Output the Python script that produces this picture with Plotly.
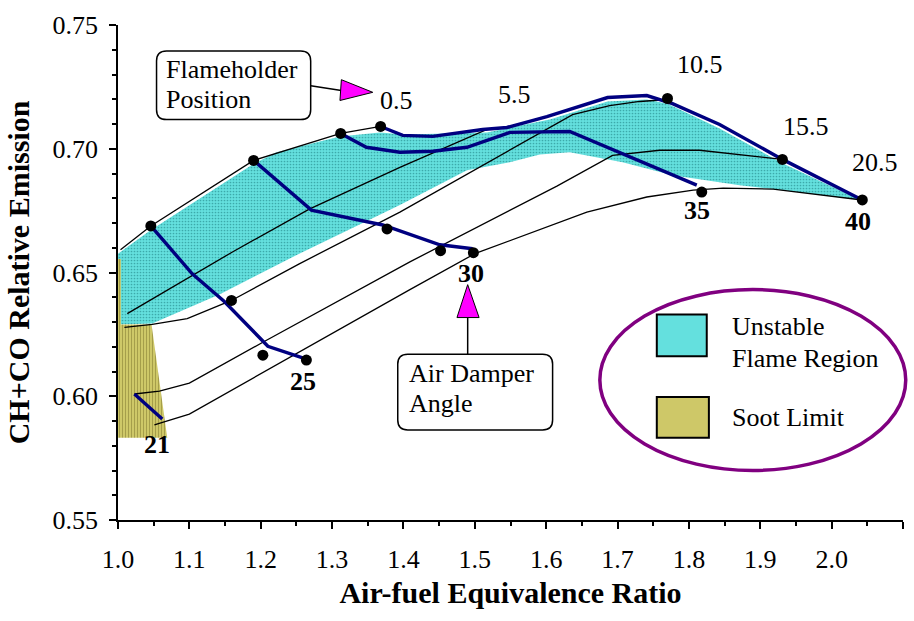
import plotly.graph_objects as go

# ---------------- data ----------------
# Unstable flame region (closed outline)
unstable_x = [1.000, 1.044, 1.189, 1.222, 1.311, 1.367, 1.402, 1.517, 1.605, 1.686, 1.741, 1.770,
              1.843, 1.931, 2.040, 1.918, 1.871, 1.777, 1.707, 1.633, 1.591, 1.549, 1.489, 1.395,
              1.254, 1.142, 1.048, 1.000]
unstable_y = [0.6576, 0.6668, 0.6937, 0.6986, 0.7050, 0.7066, 0.7058, 0.7066, 0.7118, 0.7191, 0.7199, 0.7182,
              0.7082, 0.6941, 0.6793, 0.6837, 0.6853, 0.6893, 0.6945, 0.6986, 0.6977, 0.6945, 0.6913, 0.6773,
              0.6576, 0.6411, 0.6294, 0.6290]

# Soot limit (closed outline)
soot_x = [1.000, 1.004, 1.004, 1.047, 1.069, 1.000]
soot_y = [0.6555, 0.6555, 0.6290, 0.6290, 0.5832, 0.5832]

# Constant flameholder position curves
fh_labels = ["0.5", "5.5", "10.5", "15.5", "20.5"]
fh_x = [
    [1.0035, 1.046, 1.190, 1.312, 1.368],
    [1.013, 1.161, 1.268, 1.395, 1.517, 1.531],
    [1.009, 1.048, 1.097, 1.159, 1.254, 1.395, 1.637, 1.689, 1.731, 1.770],
    [1.023, 1.058, 1.100, 1.203, 1.409, 1.615, 1.693, 1.759, 1.815, 1.931],
    [1.051, 1.100, 1.409, 1.500, 1.657, 1.741, 1.806, 1.848, 1.918, 2.043],
]
fh_y = [
    [0.6592, 0.6688, 0.6953, 0.7062, 0.7090],
    [0.6334, 0.6584, 0.6756, 0.6925, 0.7078, 0.7078],
    [0.6278, 0.6290, 0.6314, 0.6387, 0.6535, 0.6744, 0.7138, 0.7174, 0.7191, 0.7199],
    [0.6009, 0.6021, 0.6053, 0.6218, 0.6543, 0.6849, 0.6973, 0.6994, 0.6994, 0.6957],
    [0.5884, 0.5928, 0.6431, 0.6576, 0.6744, 0.6805, 0.6833, 0.6841, 0.6837, 0.6793],
]

# Constant air damper angle curves
ad_labels = ["21", "25", "30", "35", "40"]
ad_x = [
    [1.023, 1.062],
    [1.046, 1.104, 1.149, 1.210, 1.264],
    [1.190, 1.271, 1.371, 1.451, 1.497],
    [1.312, 1.348, 1.395, 1.441, 1.489, 1.549, 1.633, 1.811],
    [1.368, 1.399, 1.441, 1.511, 1.545, 1.601, 1.686, 1.741, 1.777, 1.843, 1.931, 2.043],
]
ad_y = [
    [0.6009, 0.5908],
    [0.6688, 0.6495, 0.6383, 0.6202, 0.6150],
    [0.6953, 0.6752, 0.6692, 0.6612, 0.6596],
    [0.7062, 0.7006, 0.6986, 0.6990, 0.7006, 0.7066, 0.7070, 0.6853],
    [0.7090, 0.7054, 0.7050, 0.7078, 0.7086, 0.7130, 0.7207, 0.7215, 0.7182, 0.7098, 0.6957, 0.6793],
]

# Measured points
dots_x = [1.046, 1.190, 1.312, 1.368, 1.159, 1.377, 1.203, 1.264, 1.452, 1.498, 1.770, 1.931, 2.043, 1.818]
dots_y = [0.6688, 0.6953, 0.7062, 0.7090, 0.6387, 0.6676, 0.6166, 0.6146, 0.6588, 0.6580, 0.7203, 0.6957, 0.6793, 0.6825]

x_title = "Air-fuel Equivalence Ratio"
y_title = "CH+CO Relative Emission"

# ---------------- figure ----------------
FONT = "Liberation Serif, Times New Roman, serif"
CYAN = "rgb(100,224,222)"
CYAN_DOT = "rgb(60,170,170)"
OLIVE = "rgb(206,200,104)"
OLIVE_LINE = "rgb(160,154,70)"
NAVY = "#000080"
MAGENTA = "#FF00FF"

cyan_pattern = dict(shape=".", size=3, solidity=0.25, fgcolor=CYAN_DOT, bgcolor=CYAN, fillmode="replace")
olive_pattern = dict(shape="|", size=3, solidity=0.3, fgcolor=OLIVE_LINE, bgcolor=OLIVE, fillmode="replace")

fig = go.Figure()

fig.add_trace(go.Scatter(x=unstable_x, y=unstable_y, fill="toself", fillcolor=CYAN,
                         fillpattern=cyan_pattern,
                         mode="none", hoverinfo="skip", showlegend=False))
fig.add_trace(go.Scatter(x=soot_x, y=soot_y, fill="toself", fillcolor=OLIVE,
                         fillpattern=olive_pattern,
                         mode="none", hoverinfo="skip", showlegend=False))

for xs, ys in zip(fh_x, fh_y):
    fig.add_trace(go.Scatter(x=xs, y=ys, mode="lines", line=dict(color="black", width=1.3),
                             showlegend=False, hoverinfo="skip"))
for xs, ys in zip(ad_x, ad_y):
    fig.add_trace(go.Scatter(x=xs, y=ys, mode="lines", line=dict(color=NAVY, width=3.4),
                             showlegend=False, hoverinfo="skip"))

fig.add_trace(go.Scatter(x=dots_x, y=dots_y, mode="markers",
                         marker=dict(color="black", size=11, symbol="circle"),
                         showlegend=False, hoverinfo="skip"))

annotations = []
# flameholder position labels (offset from the end of each curve)
fh_off = [(16, 26), (18, 35), (32, 35), (24, 33), (13, 37)]
for lab, xs, ys, (dx, dy) in zip(fh_labels, fh_x, fh_y, fh_off):
    annotations.append(dict(x=xs[-1], y=ys[-1], text=lab, showarrow=False, xshift=dx, yshift=dy,
                            font=dict(family=FONT, size=26, color="black")))
# air damper angle labels
ad_off = [(-5, -25), (-3, -22), (-2, -25), (0, -25), (-4, -22)]
for lab, xs, ys, (dx, dy) in zip(ad_labels, ad_x, ad_y, ad_off):
    annotations.append(dict(x=xs[-1], y=ys[-1], text="<b>%s</b>" % lab, showarrow=False,
                            xshift=dx, yshift=dy, font=dict(family=FONT, size=26, color="black")))

# callout texts
for txt, xx, yy in [("Flameholder", 1.064, 0.7319), ("Position", 1.064, 0.7199),
                    ("Air Damper", 1.4045, 0.6093), ("Angle", 1.4045, 0.5969),
                    ("Unstable", 1.857, 0.6282), ("Flame Region", 1.857, 0.6153),
                    ("Soot Limit", 1.857, 0.5916)]:
    annotations.append(dict(x=xx, y=yy, text=txt, showarrow=False, xanchor="left", yanchor="middle",
                            font=dict(family=FONT, size=26, color="black")))


def rounded_box(x0, y0, x1, y1, rx, ry):
    return (f"M{x0+rx},{y0} L{x1-rx},{y0} Q{x1},{y0} {x1},{y0+ry} "
            f"L{x1},{y1-ry} Q{x1},{y1} {x1-rx},{y1} L{x0+rx},{y1} "
            f"Q{x0},{y1} {x0},{y1-ry} L{x0},{y0+ry} Q{x0},{y0} {x0+rx},{y0} Z")


shapes = [
    # Flameholder box + pointer
    dict(type="path", path=rounded_box(1.054, 0.7118, 1.270, 0.7395, 0.014, 0.0040),
         line=dict(color="black", width=1.5), fillcolor="white", layer="above"),
    dict(type="line", x0=1.270, y0=0.7255, x1=1.313, y1=0.7235, line=dict(color="black", width=1.5)),
    dict(type="path", path="M1.313,0.7279 L1.311,0.7195 L1.357,0.7228 Z",
         fillcolor=MAGENTA, line=dict(color="black", width=1)),
    # Air damper box + pointer
    dict(type="path", path=rounded_box(1.392, 0.5864, 1.609, 0.6170, 0.014, 0.0040),
         line=dict(color="black", width=1.5), fillcolor="white", layer="above"),
    dict(type="line", x0=1.490, y0=0.6170, x1=1.490, y1=0.6318, line=dict(color="black", width=1.5)),
    dict(type="path", path="M1.475,0.6318 L1.506,0.6318 L1.490,0.6451 Z",
         fillcolor=MAGENTA, line=dict(color="black", width=1)),
    # legend ellipse and swatches
    dict(type="circle", xref="paper", yref="y", x0=0.6138, x1=1.0035, y0=0.5700, y1=0.6431,
         line=dict(color="#800080", width=3.5)),
    dict(type="rect", x0=1.755, x1=1.825, y0=0.6162, y1=0.6330, fillcolor=CYAN,
         line=dict(color="black", width=2)),
    dict(type="rect", x0=1.755, x1=1.828, y0=0.5832, y1=0.5997, fillcolor=OLIVE,
         line=dict(color="black", width=2)),
]

axis_common = dict(showline=True, linecolor="black", linewidth=1.8, ticks="outside", ticklen=7,
                   tickwidth=1.5, tickcolor="black", showgrid=False, zeroline=False, mirror=False,
                   tickfont=dict(family=FONT, size=26, color="black"))

fig.update_layout(
    width=914, height=621,
    margin=dict(l=118, r=11, t=22, b=101),
    paper_bgcolor="white", plot_bgcolor="white",
    xaxis=dict(range=[1.0, 2.1], dtick=0.1, tick0=1.0, tickformat=".1f",
               minor=dict(dtick=0.05, ticks="outside", ticklen=4, tickcolor="black", tickwidth=1.5),
               title=dict(text="<b>%s</b>" % x_title, font=dict(family=FONT, size=30, color="black"),
                          standoff=9),
               ticklabelstandoff=8, **axis_common),
    yaxis=dict(range=[0.55, 0.75], dtick=0.05, tick0=0.55, tickformat=".2f",
               minor=dict(dtick=0.01, ticks="outside", ticklen=4, tickcolor="black", tickwidth=1.5),
               title=dict(text="<b>%s</b>" % y_title, font=dict(family=FONT, size=30, color="black"),
                          standoff=14),
               ticklabelstandoff=6, **axis_common),
    annotations=annotations,
    shapes=shapes,
)

fig.write_html("out.html")
